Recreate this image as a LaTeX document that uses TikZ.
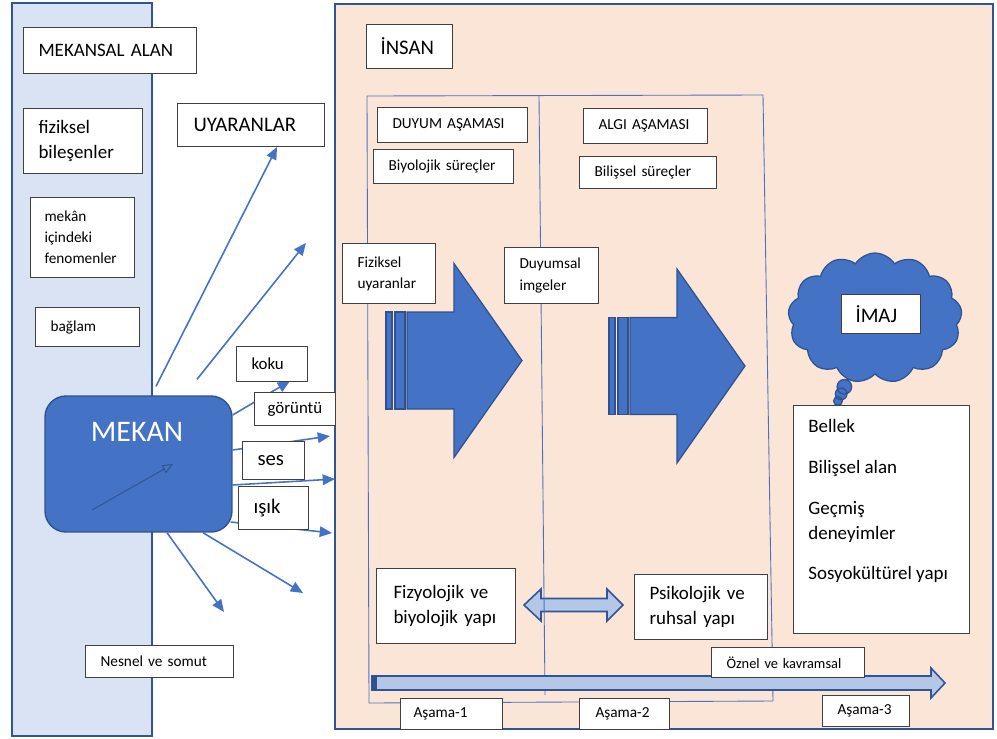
\documentclass[tikz,border=0pt]{standalone}
\usepackage{fontspec}
\setmainfont{Carlito}
\usepackage{tikz}
\usetikzlibrary{arrows.meta,positioning,shapes.symbols,shapes.callouts}
\definecolor{MBlue}{HTML}{4472C4}
\definecolor{MEdge}{HTML}{2F528F}
\definecolor{MFrame}{HTML}{2F5597}
\definecolor{MPanel}{HTML}{DAE3F3}
\definecolor{MPeach}{HTML}{FBE5D6}
\definecolor{MLight}{HTML}{B4C7E7}

\begin{document}
\begin{tikzpicture}[
        x=0.02cm, y=-0.02cm,
        box/.style={draw=black!75,line width=0.6pt,fill=white,anchor=north west,align=left,inner xsep=0pt,inner ysep=1pt},
        ftiny/.style={font=\fontsize{8.2}{10}\selectfont},
        fsmall/.style={font=\fontsize{8.7}{12}\selectfont},
        fmid/.style={font=\fontsize{9.6}{12}\selectfont},
        fbody/.style={font=\fontsize{10.8}{14.2}\selectfont},
        flarge/.style={font=\fontsize{11.8}{14.5}\selectfont},
        ray/.style={-{Triangle[length=7pt,width=6pt]},draw=MBlue,line width=0.9pt},
        blockarrow/.style={fill=MBlue,draw=MEdge,line width=0.7pt},
        flatarrow/.style={fill=MLight,draw=MFrame,line width=0.9pt},
        phaseline/.style={draw=MBlue,line width=0.5pt}
      ]
      \useasboundingbox (0,0) rectangle (997,738);

      % panels
      \filldraw[fill=MPanel,draw=MFrame,line width=1.2pt] (12,3) rectangle (152,736);
      \filldraw[fill=MPeach,draw=MFrame,line width=1.2pt] (335,4) rectangle (993,729);

      % insan side
      \draw[flatarrow] (524,605) -- (541,589) -- (541,598.5) -- (607,598.5) -- (607,589) -- (623,605)
        -- (607,621) -- (607,611.5) -- (541,611.5) -- (541,621) -- cycle;
      \draw[phaseline] (367,96) -- (763,95) -- (773,701) -- (369,703) -- cycle;
      \draw[phaseline] (539,96) -- (545,695);
      \draw[flatarrow] (372,676) -- (931,676) -- (931,668) -- (945,683) -- (931,698) -- (931,690) -- (372,690) -- cycle;
      \fill[MEdge] (372,676) rectangle (377,690);

      \foreach \ax/\ay in {386/360.5, 609/366} {
        \filldraw[blockarrow] (\ax,\ay-48.5) rectangle ++(6,97);
        \filldraw[blockarrow] (\ax+9,\ay-48.5) rectangle ++(10,97);
        \filldraw[blockarrow] (\ax+21,\ay-48.5) -- ++(47,0) -- ++(0,-48.5) -- (\ax+136,\ay)
          -- (\ax+68,\ay+97) -- ++(0,-48.5) -- (\ax+21,\ay+48.5) -- cycle;
      }

      \node[cloud callout,cloud puffs=13,cloud puff arc=115,cloud ignores aspect,
        minimum width=3.48cm,minimum height=2.6cm,fill=MBlue,draw=MEdge,line width=0.7pt,
        callout absolute pointer={(838,401)},callout pointer start size=11pt and 10pt,
        callout pointer end size=5pt and 5pt,callout pointer segments=3] (cloud) at (875,318) {};
      \node[box,flarge,minimum width=1.58cm,minimum height=0.78cm,text width=1.02cm] (imaj) at (841,294) {İMAJ};

      \node[box,flarge,minimum width=1.72cm,minimum height=0.88cm,text width=1.16cm] (insan) at (366,24) {İNSAN};
      \node[box,fsmall,minimum width=3.0cm,minimum height=0.7cm,text width=2.4cm] (duyum) at (377,107) {DUYUM~AŞAMASI};
      \node[box,fsmall,minimum width=2.8cm,minimum height=0.68cm,text width=2.2cm] (biyo) at (373,149) {Biyolojik~süreçler};
      \node[box,fsmall,minimum width=2.48cm,minimum height=0.7cm,text width=1.88cm] (algi) at (583,108) {ALGI~AŞAMASI};
      \node[box,fsmall,minimum width=2.74cm,minimum height=0.64cm,text width=2.14cm] (bilissel) at (579,156) {Bilişsel~süreçler};
      \node[box,fsmall,minimum width=1.86cm,minimum height=1.2cm,text width=1.26cm] (fizuyar) at (342,243) {Fiziksel\\uyaranlar};
      \node[box,fsmall,minimum width=1.88cm,minimum height=1.12cm,text width=1.28cm] (duyimg) at (504,247) {Duyumsal\\imgeler};
      \node[box,fbody,minimum width=2.78cm,minimum height=1.5cm,text width=2.1cm] (fizyo) at (376,568) {Fizyolojik ve\\biyolojik yapı};
      \node[box,fbody,minimum width=2.66cm,minimum height=1.3cm,text width=2.06cm] (psiko) at (634,574) {Psikolojik ve\\ruhsal yapı};
      \node[box,ftiny,minimum width=3.06cm,minimum height=0.6cm,text width=2.46cm] (oznel) at (711,647) {Öznel~ve~kavramsal};
      \node[box,fsmall,minimum width=2.04cm,minimum height=0.62cm,text width=1.52cm] (asama1) at (400,698) {Aşama-1};
      \node[box,fsmall,minimum width=1.8cm,minimum height=0.62cm,text width=1.16cm] (asama2) at (579,698) {Aşama-2};
      \node[box,fsmall,minimum width=1.74cm,minimum height=0.62cm,text width=1.14cm] (asama3) at (822,695) {Aşama-3};
      \node[box,minimum width=3.52cm,minimum height=4.56cm] (bellek) at (793,405) {};
      \node[fbody,align=left,inner sep=0pt,below right=0.28cm and 0.3cm of bellek.north west] (bellektxt)
        {Bellek\\[9pt]Bilişsel alan\\[9pt]Geçmiş\\deneyimler\\[9pt]Sosyokültürel yapı};

      % mekan side
      \node[fill=MBlue,draw=MEdge,line width=0.8pt,rounded corners=0.42cm,
        minimum width=3.74cm,minimum height=2.72cm] (mekan) at (138.5,464) {};
      \node[font=\fontsize{17}{20}\selectfont,text=white] (mekanlbl) at (137,432) {MEKAN};
      \coordinate (inA) at (92,510);
      \coordinate (inB) at (173,464);
      \draw[-{Triangle[open,length=6pt,width=5pt]},draw=MEdge,line width=0.5pt] (inA) -- (inB);

      \coordinate (ray1) at (277,147);
      \coordinate (ray2) at (306,243);
      \coordinate (ray3) at (290,381);
      \coordinate (ray4) at (330,436);
      \coordinate (ray5) at (335,479);
      \coordinate (ray6) at (332,533);
      \coordinate (ray7) at (303,593);
      \coordinate (ray8) at (224,612);
      \draw[ray] ([xshift=0.35cm,yshift=0.18cm]mekan.north) -- (ray1);
      \draw[ray] ([xshift=1.17cm,yshift=0.32cm]mekan.north) -- (ray2);
      \draw[ray] ([yshift=0.98cm]mekan.east) -- (ray3);
      \draw[ray] ([yshift=0.28cm]mekan.east) -- (ray4);
      \draw[ray] ([yshift=-0.42cm]mekan.east) -- (ray5);
      \draw[ray] ([xshift=-0.04cm,yshift=-1.16cm]mekan.east) -- (ray6);
      \draw[ray] ([xshift=1.29cm]mekan.south) -- (ray7);
      \draw[ray] ([xshift=0.57cm]mekan.south) -- (ray8);

      \node[box,fbody,minimum width=3.46cm,minimum height=0.92cm,text width=2.86cm] (mekansal) at (23,27) {MEKANSAL~ALAN};
      \node[box,fbody,minimum width=2.38cm,minimum height=1.3cm,text width=1.78cm] (fiziksel) at (23,108) {fiziksel\\bileşenler};
      \node[box,fsmall,minimum width=2.08cm,minimum height=1.6cm,text width=1.52cm] (fenomen) at (30,197) {mekân\\içindeki\\fenomenler};
      \node[box,fsmall,minimum width=2.08cm,minimum height=0.78cm,text width=1.48cm] (baglam) at (35,307) {bağlam};
      \node[box,flarge,minimum width=2.94cm,minimum height=0.86cm,text width=2.3cm] (uyaranlar) at (177,103) {UYARANLAR};
      \node[box,fsmall,minimum width=2.96cm,minimum height=0.64cm,text width=2.36cm] (nesnel) at (85,645) {Nesnel~ve~somut};
      \node[box,fmid,minimum width=1.42cm,minimum height=0.7cm,text width=0.82cm] (koku) at (236,346) {koku};
      \node[box,fmid,minimum width=1.62cm,minimum height=0.66cm,text width=1.1cm] (goruntu) at (254,392) {görüntü};
      \node[box,flarge,minimum width=1.24cm,minimum height=0.76cm,text width=0.64cm] (ses) at (242,441) {ses};
      \node[box,flarge,minimum width=1.4cm,minimum height=0.86cm,text width=0.8cm] (isik) at (238,486) {ışık};
    \end{tikzpicture}
\end{document}
